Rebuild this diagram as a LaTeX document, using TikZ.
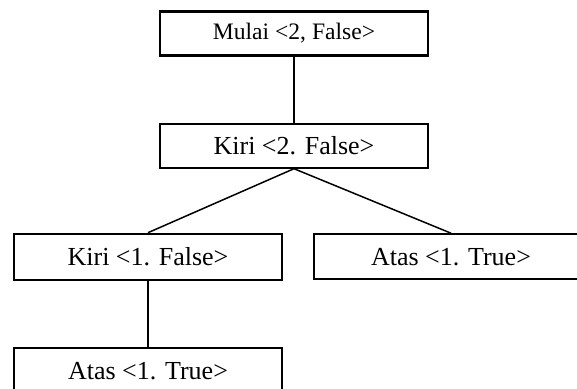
\documentclass[tikz,border=0pt]{standalone}
\usepackage{fontspec}
\setmainfont{Liberation Serif}
\usetikzlibrary{positioning}

\begin{document}
\begin{tikzpicture}[node distance=33.5pt, auto,
    state/.style={rectangle, draw, line width=1pt, minimum width=134pt, minimum height=22pt, inner sep=0pt, text centered, font=\fontsize{13}{15}\selectfont},
    root/.style={state, line width=1.2pt, font=\fontsize{11.8}{14}\selectfont},
    line/.style={draw, line width=0.75pt}
]
    \useasboundingbox (-147pt,16.75pt) rectangle (141.5pt,-177.75pt);
    \clip (-147pt,16.75pt) rectangle (141.5pt,-177.75pt);

    % Root
    \node [root] (mulai) {Mulai <2, False>};

    % Level 1
    \node [state, below=33pt of mulai] (kiri2) {Kiri <2. False>};

    % Level 2
    \node [state, below=32pt of kiri2, xshift=-73pt, minimum height=23pt] (kiri1) {Kiri <1. False>};
    \node [state, right=15pt of kiri1, minimum width=137pt, minimum height=22.5pt] (atas1) {Atas <1. True>};

    % Level 3
    \node [state, below=33pt of kiri1, minimum height=23pt] (atas2) {Atas <1. True>};

    % Connections
    \path [line] (mulai) -- (kiri2);
    \path [line] (kiri2.south) -- (kiri1.north);
    \path [line] (kiri2.south) -- (atas1.north);
    \path [line] (kiri1) -- (atas2);
\end{tikzpicture}
\end{document}
